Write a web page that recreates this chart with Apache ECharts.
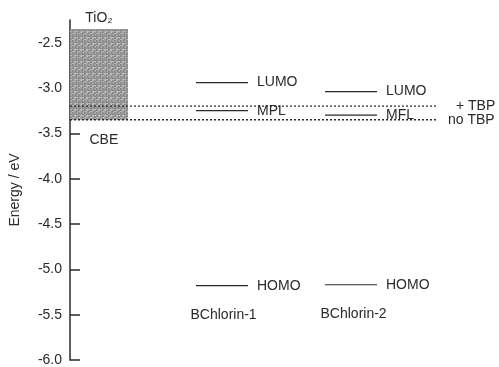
<!DOCTYPE html>
<html>
<head>
<meta charset="utf-8">
<script src="https://cdn.jsdelivr.net/npm/echarts@6/dist/echarts.min.js"></script>
<style>
  html, body { margin: 0; padding: 0; background: #fff; }
  #chart { width: 499px; height: 367px; }
</style>
</head>
<body>
<div id="chart"></div>
<script>
// energy levels (eV)
const molecules = ["BChlorin-1", "BChlorin-2"];
const lumo = [-2.94, -3.04];
const mpl = [-3.25, -3.30];
const mplNames = ["MPL", "MFL"];
const homo = [-5.18, -5.17];

// TiO2 conduction band block
const tio2Top = -2.35;
const tio2Bottom = -3.35;

// Fermi level lines with / without TBP
const tbpNames = ["+ TBP", "no TBP"];
const tbpLevels = [-3.2, -3.35];

const yTicks = [-6.0, -5.5, -5.0, -4.5, -4.0, -3.5, -3.0, -2.5];

const font = "Liberation Sans, Arial, sans-serif";
const ink = "#2a2a2a";
const fs = 14;

// horizontal layout (x axis runs in pixels of the plot area)
const levelStart = [126, 255];
const levelWidth = 52;
const dottedEnd = 368;

// grainy grey fill for the TiO2 block (fixed pattern, just styling)
const makeGrain = () => {
  const c = document.createElement("canvas");
  c.width = 6;
  c.height = 6;
  const g = c.getContext("2d");
  const shades = [
    "#949494", "#b0b0b0", "#888888", "#a4a4a4", "#bcbcbc", "#909090",
    "#acacac", "#8c8c8c", "#b8b8b8", "#9a9a9a", "#848484", "#a8a8a8",
    "#9c9c9c", "#c0c0c0", "#929292", "#b4b4b4", "#a0a0a0", "#8a8a8a"
  ];
  for (let y = 0; y < 6; y++) {
    for (let x = 0; x < 6; x++) {
      g.fillStyle = shades[(x * 7 + y * 5) % shades.length];
      g.fillRect(x, y, 1, 1);
    }
  }
  return c;
};

const chart = echarts.init(document.getElementById("chart"));

const series = [];

// TiO2 box
series.push({
  type: "line",
  data: [],
  markArea: {
    silent: true,
    itemStyle: {
      color: { image: makeGrain(), repeat: "repeat" }
    },
    label: {
      show: true,
      position: "top",
      distance: 4,
      formatter: "TiO\u2082",
      color: ink,
      fontFamily: font,
      fontSize: fs
    },
    data: [[{ coord: [0, tio2Top] }, { coord: [58, tio2Bottom] }]]
  }
});

// dotted TBP lines
tbpLevels.forEach((y, i) => {
  series.push({
    type: "line",
    symbol: "none",
    silent: true,
    data: [[0, y], [dottedEnd, y]],
    lineStyle: { color: ink, width: 1.3, type: [2, 2] },
    endLabel: {
      show: true,
      formatter: tbpNames[i],
      distance: i === 0 ? 18 : 10,
      color: ink,
      fontFamily: font,
      fontSize: fs
    }
  });
});

// molecular energy levels
const addLevel = (x0, y, name) => {
  series.push({
    type: "line",
    symbol: "none",
    silent: true,
    data: [[x0, y], [x0 + levelWidth, y]],
    lineStyle: { color: ink, width: 1.2 },
    endLabel: {
      show: true,
      formatter: name,
      distance: 9,
      color: ink,
      fontFamily: font,
      fontSize: fs
    }
  });
};
molecules.forEach((m, i) => {
  addLevel(levelStart[i], lumo[i], "LUMO");
  addLevel(levelStart[i], mpl[i], mplNames[i]);
  addLevel(levelStart[i], homo[i], "HOMO");
});

// text labels: molecule names and CBE
series.push({
  type: "scatter",
  symbolSize: 1,
  silent: true,
  itemStyle: { color: "#fff", opacity: 1 },
  label: {
    show: true,
    position: "right",
    distance: 0,
    color: ink,
    fontFamily: font,
    fontSize: fs,
    textBorderWidth: 0,
    formatter: (p) => p.data[2]
  },
  data: [
    [levelStart[0] - 6, homo[0] - 0.33, molecules[0]],
    [levelStart[1] - 5, homo[1] - 0.32, molecules[1]],
    [19, -3.58, "CBE"]
  ]
});

chart.setOption({
  backgroundColor: "#fff",
  animation: false,
  grid: { left: 70, right: 29, top: 20, bottom: 7 },
  xAxis: {
    type: "value",
    min: 0,
    max: 400,
    show: false
  },
  yAxis: {
    type: "value",
    min: -6.0,
    max: -2.25,
    interval: 0.5,
    name: "Energy / eV",
    nameLocation: "middle",
    nameGap: 48,
    nameTextStyle: { color: ink, fontFamily: font, fontSize: fs },
    axisLine: { show: true, lineStyle: { color: ink, width: 1.5 } },
    axisTick: { show: true, inside: true, length: 10, lineStyle: { color: ink, width: 1.5 } },
    axisLabel: {
      color: ink,
      fontFamily: font,
      fontSize: fs,
      margin: 8,
      showMaxLabel: false,
      formatter: (v) => (yTicks.some((t) => Math.abs(t - v) < 1e-6) ? v.toFixed(1) : "")
    },
    splitLine: { show: false }
  },
  series: series
});
</script>
</body>
</html>
